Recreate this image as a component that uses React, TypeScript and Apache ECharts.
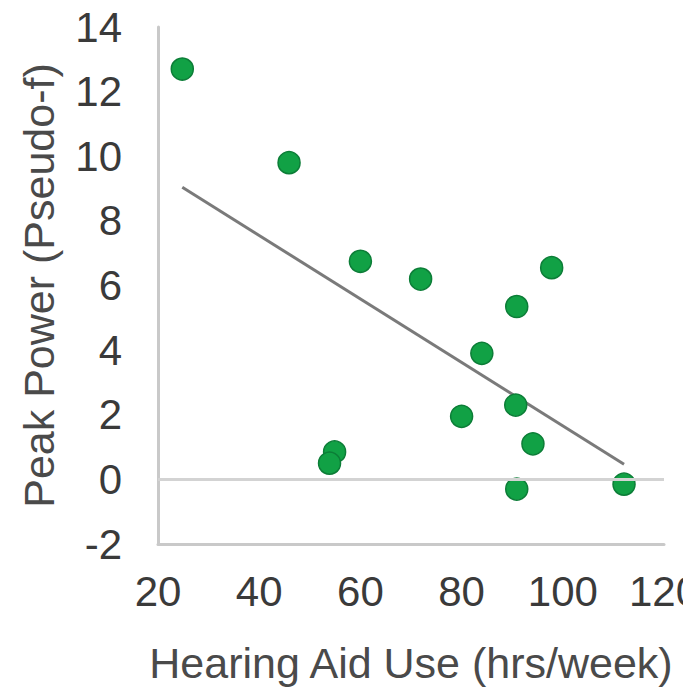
import React, { useEffect, useRef } from "react";
import * as echarts from "echarts";

// Weekly hearing-aid use (hours) and peak power (pseudo-f) per participant
const hoursPerWeek = [24.8, 45.9, 60.0, 71.9, 97.8, 90.9, 84.0, 90.7, 80.0, 94.1, 54.9, 53.9, 90.9, 112.1];
const peakPower = [12.7, 9.8, 6.75, 6.2, 6.55, 5.35, 3.9, 2.3, 1.95, 1.1, 0.85, 0.5, -0.3, -0.15];

// Fitted trend line end points (x, y)
const trendX = [24.8, 112.1];
const trendY = [9.04, 0.47];

const xTicks = { min: 20, max: 120, interval: 20 };
const yTicks = { min: -2, max: 14, interval: 2 };

const FONT = "'Liberation Sans', Arial, Helvetica, sans-serif";

export default function App() {
  const ref = useRef<HTMLDivElement>(null);

  useEffect(() => {
    if (!ref.current) return;
    const chart = echarts.init(ref.current, undefined, { renderer: "svg" });

    const points = hoursPerWeek.map((h, i) => [h, peakPower[i]]);
    const trend = trendX.map((x, i) => [x, trendY[i]]);

    chart.setOption({
      animation: false,
      backgroundColor: "#ffffff",
      grid: { left: 158, right: 19, top: 27, bottom: 145, outerBoundsMode: "none", containLabel: false },
      xAxis: {
        type: "value",
        min: xTicks.min,
        max: xTicks.max,
        interval: xTicks.interval,
        name: "Hearing Aid Use (hrs/week)",
        nameLocation: "middle",
        nameGap: 97,
        nameTextStyle: { fontFamily: FONT, fontSize: 43, color: "#4a4a4a" },
        axisLine: { show: true, onZero: false, lineStyle: { color: "#c9c9c9", width: 3 } },
        axisTick: { show: false },
        splitLine: { show: false },
        axisLabel: { fontFamily: FONT, fontSize: 42, color: "#3a3a3a", margin: 26, hideOverlap: false },
      },
      yAxis: {
        type: "value",
        min: yTicks.min,
        max: yTicks.max,
        interval: yTicks.interval,
        name: "Peak Power (Pseudo-f)",
        nameLocation: "middle",
        nameRotate: 90,
        nameGap: 98,
        nameTextStyle: { fontFamily: FONT, fontSize: 43, color: "#4a4a4a" },
        axisLine: { show: true, lineStyle: { color: "#c9c9c9", width: 3 } },
        axisTick: { show: false },
        splitLine: { show: false },
        axisLabel: { fontFamily: FONT, fontSize: 42, color: "#3a3a3a", margin: 36 },
      },
      series: [
        {
          type: "line",
          data: trend,
          symbol: "none",
          silent: true,
          lineStyle: { color: "#7a7a7a", width: 3 },
          z: 2,
          markLine: {
            silent: true,
            symbol: "none",
            label: { show: false },
            lineStyle: { color: "#d3d3d3", width: 3, type: "solid" },
            data: [{ yAxis: 0 }],
          },
        },
        {
          type: "scatter",
          data: points,
          symbolSize: 22,
          itemStyle: { color: "#11a145", borderColor: "#0c7d37", borderWidth: 1.5, opacity: 1 },
          z: 3,
        },
      ],
    });

    return () => chart.dispose();
  }, []);

  return (
    <div
      ref={ref}
      style={{ position: "fixed", left: 0, top: 0, width: 683, height: 689, background: "#fff" }}
    />
  );
}
